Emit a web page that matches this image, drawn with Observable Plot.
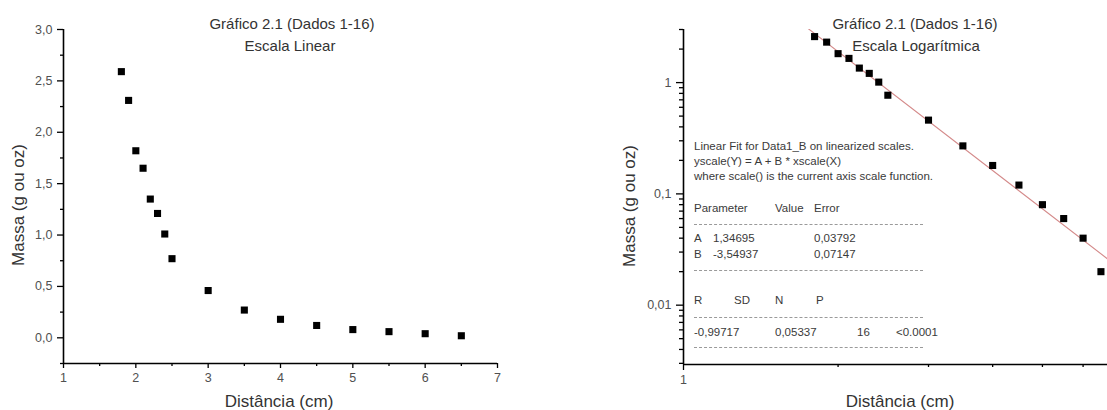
<!DOCTYPE html>
<html>
<head>
<meta charset="utf-8">
<script src="https://cdn.jsdelivr.net/npm/d3@7"></script>
<script src="https://cdn.jsdelivr.net/npm/@observablehq/plot@0.6"></script>
<style>
  html, body { margin: 0; padding: 0; background: #fff; }
  #wrap { position: relative; width: 1107px; height: 410px; overflow: hidden; font-family: "Liberation Sans", Arial, sans-serif; color: #333; }
  #wrap svg { position: absolute; top: 0; }
  .ov { position: absolute; white-space: nowrap; }
  .title { font-size: 15px; line-height: 18px; text-align: center; width: 300px; }
  .axlab { font-size: 17px; line-height: 20px; text-align: center; width: 200px; }
  .fit { font-size: 11.5px; line-height: 14px; color: #3a3a3a; }
  .dash { position: absolute; height: 0; border-top: 1px dashed #9a9a9a; }
</style>
</head>
<body>
<div id="wrap"></div>
<script>
// ---- data ----
const distancia = [1.8, 1.9, 2.0, 2.1, 2.2, 2.3, 2.4, 2.5, 3.0, 3.5, 4.0, 4.5, 5.0, 5.5, 6.0, 6.5];
const massa = [2.59, 2.31, 1.82, 1.65, 1.35, 1.21, 1.01, 0.77, 0.46, 0.27, 0.18, 0.12, 0.08, 0.06, 0.04, 0.02];

// linear chart ticks
const xTicksLin = [1, 2, 3, 4, 5, 6, 7];
const xMinorLin = [1.5, 2.5, 3.5, 4.5, 5.5, 6.5];
const yTicksLin = [0, 0.5, 1, 1.5, 2, 2.5, 3];
const yTickLabelsLin = ["0,0", "0,5", "1,0", "1,5", "2,0", "2,5", "3,0"];
const yMinorLin = [-0.25, 0.25, 0.75, 1.25, 1.75, 2.25, 2.75];

// log chart ticks
const xTicksLog = [1];
const xTickLabelsLog = ["1"];
const xMinorLog = [2, 3, 4, 5, 6];
const yTicksLog = [0.01, 0.1, 1];
const yTickLabelsLog = ["0,01", "0,1", "1"];
const yMinorLog = [0.003, 0.004, 0.005, 0.006, 0.007, 0.008, 0.009,
                   0.02, 0.03, 0.04, 0.05, 0.06, 0.07, 0.08, 0.09,
                   0.2, 0.3, 0.4, 0.5, 0.6, 0.7, 0.8, 0.9, 2, 3];

// fit results (Origin linear fit on linearized scales)
const fitA = 1.34695;
const fitB = -3.54937;
const fitXRange = [1.7, 7];
const paramNames = ["A", "B"];
const paramValues = ["1,34695", "-3,54937"];
const paramErrors = ["0,03792", "0,07147"];
const statHeaders = ["R", "SD", "N", "P"];
const statValues = ["-0,99717", "0,05337", "16", "<0.0001"];

const titles = ["Gráfico 2.1 (Dados 1-16)", "Escala Linear", "Escala Logarítmica"];
const xLabel = "Distância (cm)";
const yLabel = "Massa (g ou oz)";

// ---- build ----
const pts = distancia.map((d, i) => ({x: d, y: massa[i]}));
const fitLine = fitXRange.map(x => ({x, y: Math.pow(10, fitA + fitB * Math.log10(x))}));

const baseStyle = {fontFamily: "Liberation Sans, Arial, sans-serif", fontSize: "12.5px", background: "transparent", overflow: "visible"};
const blank = () => "";

function tickAxisY(ticks, size) {
  return Plot.axisY({ticks, tickSize: size, tickFormat: blank, label: null, stroke: "#000", strokeWidth: 1.3});
}
function tickAxisX(ticks, size) {
  return Plot.axisX({ticks, tickSize: size, tickFormat: blank, label: null, stroke: "#000", strokeWidth: 1.3});
}
function textAxisY(ticks, labels, pad) {
  return Plot.axisY({ticks, tickSize: 0, tickPadding: pad, label: null, tickFormat: d => labels[ticks.indexOf(d)], fill: "#505050", color: "#505050"});
}
function textAxisX(ticks, labels, pad) {
  return Plot.axisX({ticks, tickSize: 0, tickPadding: pad, label: null, tickFormat: d => labels[ticks.indexOf(d)], fill: "#505050", color: "#505050"});
}

const left = Plot.plot({
  width: 553, height: 410,
  marginLeft: 63, marginRight: 56, marginTop: 29, marginBottom: 47,
  style: baseStyle,
  x: {domain: [1, 7]},
  y: {domain: [-0.25, 3]},
  marks: [
    tickAxisY(yTicksLin, 6),
    textAxisY(yTicksLin, yTickLabelsLin, 11),
    tickAxisY(yMinorLin, 3),
    tickAxisX(xTicksLin, 5),
    textAxisX(xTicksLin, xTicksLin.map(String), 10),
    tickAxisX(xMinorLin, 3),
    Plot.ruleX([1], {stroke: "#000", strokeWidth: 1.6}),
    Plot.ruleY([-0.25], {stroke: "#000", strokeWidth: 1.6}),
    Plot.dot(pts, {x: "x", y: "y", symbol: "square", r: 4, fill: "#000", stroke: null})
  ]
});
left.style.left = "0px";

const right = Plot.plot({
  width: 554, height: 410,
  marginLeft: 130, marginRight: 0, marginTop: 29, marginBottom: 46,
  style: baseStyle,
  x: {type: "log", domain: [1, 6.694]},
  y: {type: "log", domain: [0.00293, 3]},
  marks: [
    Plot.line(fitLine, {x: "x", y: "y", stroke: "#d48a8a", strokeWidth: 1.1, clip: true}),
    tickAxisY(yTicksLog, 7),
    textAxisY(yTicksLog, yTickLabelsLog, 12),
    tickAxisY(yMinorLog, 4),
    tickAxisX(xTicksLog, 6),
    textAxisX(xTicksLog, xTickLabelsLog, 11),
    tickAxisX(xMinorLog, 3),
    Plot.ruleX([1], {stroke: "#000", strokeWidth: 1.6}),
    Plot.ruleY([0.00293], {stroke: "#000", strokeWidth: 1.6}),
    Plot.dot(pts, {x: "x", y: "y", symbol: "square", r: 4, fill: "#000", stroke: null})
  ]
});
right.style.left = "553px";

const wrap = document.getElementById("wrap");
wrap.appendChild(left);
wrap.appendChild(right);

function addDiv(cls, text, css) {
  const d = document.createElement("div");
  d.className = "ov " + cls;
  d.textContent = text;
  Object.assign(d.style, css);
  wrap.appendChild(d);
  return d;
}

// titles
addDiv("title", titles[0], {left: (292 - 150) + "px", top: "14.8px"});
addDiv("title", titles[1], {left: (290 - 150) + "px", top: "36.6px"});
addDiv("title", titles[0], {left: (915 - 150) + "px", top: "14.8px"});
addDiv("title", titles[2], {left: (916 - 150) + "px", top: "36.6px"});

// axis labels
addDiv("axlab", xLabel, {left: (279 - 100) + "px", top: "392.3px"});
addDiv("axlab", xLabel, {left: (900 - 100) + "px", top: "392.3px"});
addDiv("axlab", yLabel, {left: (18.6 - 100) + "px", top: (205 - 10) + "px", transform: "rotate(-90deg)"});
addDiv("axlab", yLabel, {left: (630.3 - 100) + "px", top: (206 - 10) + "px", transform: "rotate(-90deg)"});

// fit box text
const fx = 694;
function fitText(text, x, cy) { addDiv("fit", text, {left: x + "px", top: (cy - 7) + "px"}); }
fitText("Linear Fit for Data1_B on linearized scales.", fx, 145.7);
fitText("yscale(Y) = A + B * xscale(X)", fx, 160.7);
fitText("where scale() is the current axis scale function.", fx, 176.3);
fitText("Parameter", fx, 207.7);
fitText("Value", 775, 207.7);
fitText("Error", 814, 207.7);
const rowY = [238.3, 254];
paramNames.forEach((p, i) => {
  fitText(p, fx, rowY[i]);
  fitText(paramValues[i], 713, rowY[i]);
  fitText(paramErrors[i], 814, rowY[i]);
});
const statX = [694, 734, 775, 816];
statHeaders.forEach((h, i) => fitText(h, statX[i], 300));
const statValX = [694, 775, 857, 896];
statValues.forEach((v, i) => fitText(v, statValX[i], 331.7));
[224, 270, 316.7, 347.3].forEach(y => {
  const d = document.createElement("div");
  d.className = "dash";
  Object.assign(d.style, {left: fx + "px", width: (923 - fx) + "px", top: y + "px"});
  wrap.appendChild(d);
});
</script>
</body>
</html>
